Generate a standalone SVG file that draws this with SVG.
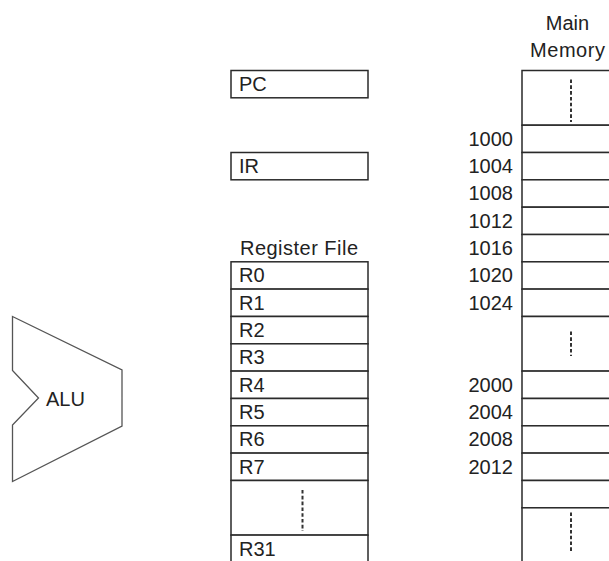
<svg xmlns="http://www.w3.org/2000/svg" width="609" height="561" viewBox="0 0 609 561">
<style>
  .box { fill: #fff; stroke: #2a2a2a; stroke-width: 1.5; }
  .alu { fill: #fff; stroke: #555; stroke-width: 1.3; stroke-linejoin: miter; }
  .t { font-family: "Liberation Sans", Arial, sans-serif; font-size: 20px; fill: #222; }
  .end { text-anchor: end; }
  .mid { text-anchor: middle; }
  .dots { stroke: #333; stroke-width: 2; stroke-dasharray: 3.6 2.2; fill: none; }
</style>
<rect width="609" height="561" fill="#fff"/>

<g id="alu">
  <polygon class="alu" points="12.5,316.5 122,370 122,426 12.5,481.5 12.5,425 38.5,398 12.5,370.5"/>
  <text class="t" x="46" y="405.5">ALU</text>
</g>

<g id="pc">
  <rect class="box" x="231" y="70.5" width="137" height="27.3"/>
  <text class="t" x="239" y="91">PC</text>
</g>

<g id="ir">
  <rect class="box" x="231" y="152.5" width="137" height="27.3"/>
  <text class="t" x="239" y="173">IR</text>
</g>

<g id="register-file">
  <text class="t mid" x="299" y="254.5" textLength="118" lengthAdjust="spacing">Register File</text>
  <g id="r0"><rect class="box" x="231" y="261.8" width="137" height="27.33"/><text class="t" x="239" y="282.3">R0</text></g>
  <g id="r1"><rect class="box" x="231" y="289.1" width="137" height="27.33"/><text class="t" x="239" y="309.6">R1</text></g>
  <g id="r2"><rect class="box" x="231" y="316.5" width="137" height="27.33"/><text class="t" x="239" y="337">R2</text></g>
  <g id="r3"><rect class="box" x="231" y="343.8" width="137" height="27.33"/><text class="t" x="239" y="364.3">R3</text></g>
  <g id="r4"><rect class="box" x="231" y="371.1" width="137" height="27.33"/><text class="t" x="239" y="391.6">R4</text></g>
  <g id="r5"><rect class="box" x="231" y="398.5" width="137" height="27.33"/><text class="t" x="239" y="419">R5</text></g>
  <g id="r6"><rect class="box" x="231" y="425.8" width="137" height="27.33"/><text class="t" x="239" y="446.3">R6</text></g>
  <g id="r7"><rect class="box" x="231" y="453.1" width="137" height="27.33"/><text class="t" x="239" y="473.6">R7</text></g>
  <g id="r-ellipsis"><rect class="box" x="231" y="480.5" width="137" height="54.6"/><line class="dots" x1="302.5" y1="490" x2="302.5" y2="531"/></g>
  <g id="r31"><rect class="box" x="231" y="535.1" width="137" height="40"/><text class="t" x="239" y="555.6">R31</text></g>
</g>

<g id="main-memory">
  <text class="t mid" x="567.5" y="29.5">Main</text>
  <text class="t mid" x="567.5" y="56.8" textLength="75" lengthAdjust="spacing">Memory</text>
  <rect class="box" x="522" y="70.5" width="110" height="54.7"/>
  <line class="dots" x1="571" y1="79.5" x2="571" y2="122"/>
  <g id="m1000"><rect class="box" x="522" y="125.2" width="110" height="27.33"/><text class="t end" x="513" y="145.7">1000</text></g>
  <g id="m1004"><rect class="box" x="522" y="152.5" width="110" height="27.33"/><text class="t end" x="513" y="173">1004</text></g>
  <g id="m1008"><rect class="box" x="522" y="179.8" width="110" height="27.33"/><text class="t end" x="513" y="200.3">1008</text></g>
  <g id="m1012"><rect class="box" x="522" y="207.2" width="110" height="27.33"/><text class="t end" x="513" y="227.7">1012</text></g>
  <g id="m1016"><rect class="box" x="522" y="234.5" width="110" height="27.33"/><text class="t end" x="513" y="255">1016</text></g>
  <g id="m1020"><rect class="box" x="522" y="261.8" width="110" height="27.33"/><text class="t end" x="513" y="282.3">1020</text></g>
  <g id="m1024"><rect class="box" x="522" y="289.1" width="110" height="27.33"/><text class="t end" x="513" y="309.6">1024</text></g>
  <rect class="box" x="522" y="316.5" width="110" height="54.6"/>
  <line class="dots" x1="571" y1="331.5" x2="571" y2="356"/>
  <g id="m2000"><rect class="box" x="522" y="371.1" width="110" height="27.33"/><text class="t end" x="513" y="391.6">2000</text></g>
  <g id="m2004"><rect class="box" x="522" y="398.5" width="110" height="27.33"/><text class="t end" x="513" y="419">2004</text></g>
  <g id="m2008"><rect class="box" x="522" y="425.8" width="110" height="27.33"/><text class="t end" x="513" y="446.3">2008</text></g>
  <g id="m2012"><rect class="box" x="522" y="453.1" width="110" height="27.33"/><text class="t end" x="513" y="473.6">2012</text></g>
  <rect class="box" x="522" y="480.5" width="110" height="27.33"/>
  <rect class="box" x="522" y="507.8" width="110" height="70"/>
  <line class="dots" x1="571" y1="512.5" x2="571" y2="552"/>
</g>
</svg>
